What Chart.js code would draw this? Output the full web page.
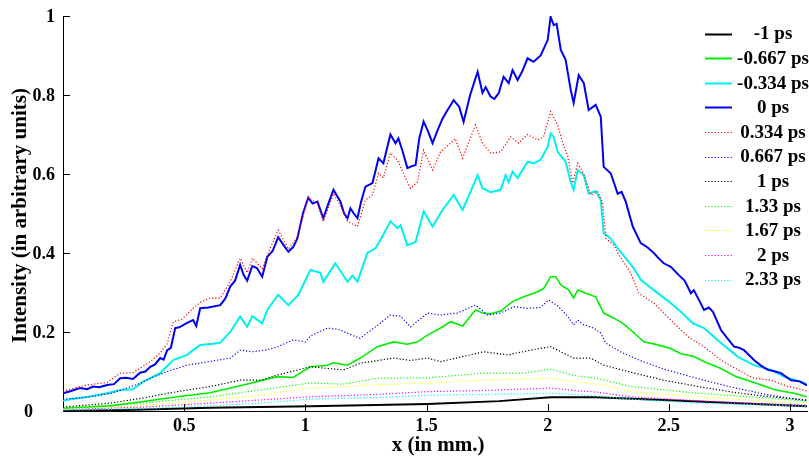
<!DOCTYPE html>
<html><head><meta charset="utf-8">
<script src="https://cdn.jsdelivr.net/npm/chart.js@4/dist/chart.umd.min.js"></script>
<style>html,body{margin:0;padding:0;background:#fff;}canvas{display:block;}</style>
</head><body>
<canvas id="c" width="809" height="459"></canvas>
<script>
// ---------- DATA ----------
const seriesLabels = ['-1 ps','-0.667 ps','-0.334 ps','0 ps','0.334 ps','0.667 ps','1 ps','1.33 ps','1.67 ps','2 ps','2.33 ps'];
const xTickValues = [0.5, 1, 1.5, 2, 2.5, 3];
const yTickValues = [0, 0.2, 0.4, 0.6, 0.8, 1];

// -1 ps
const xM1 = [0.000,0.300,0.607,1.021,1.504,1.800,2.012,2.200,2.500,2.760,3.070];
const yM1 = [0.000,0.003,0.008,0.012,0.018,0.025,0.035,0.035,0.027,0.020,0.012];

// -0.667 ps
const xM0667 = [0.000,0.100,0.194,0.331,0.471,0.607,0.744,0.884,0.950,1.021,1.091,1.116,1.174,1.227,1.297,1.364,1.421,1.463,1.504,1.558,1.599,1.649,1.702,1.731,1.764,1.806,1.855,1.901,1.959,1.983,2.012,2.033,2.054,2.087,2.107,2.124,2.157,2.198,2.231,2.273,2.310,2.343,2.397,2.450,2.508,2.550,2.603,2.656,2.713,2.776,2.857,2.941,3.017,3.070];
const yM0667 = [0.007,0.010,0.013,0.024,0.036,0.046,0.066,0.087,0.085,0.112,0.116,0.122,0.116,0.134,0.163,0.175,0.169,0.175,0.192,0.210,0.226,0.215,0.256,0.248,0.246,0.253,0.277,0.289,0.302,0.310,0.340,0.340,0.319,0.306,0.286,0.306,0.298,0.289,0.248,0.235,0.222,0.205,0.175,0.168,0.158,0.145,0.138,0.122,0.108,0.087,0.071,0.053,0.045,0.036];

// -0.334 ps
const xM0334 = [0.000,0.030,0.070,0.124,0.182,0.236,0.289,0.330,0.401,0.455,0.512,0.537,0.566,0.620,0.649,0.690,0.731,0.760,0.781,0.822,0.843,0.888,0.930,0.971,1.021,1.062,1.074,1.124,1.174,1.194,1.215,1.256,1.289,1.310,1.351,1.380,1.393,1.421,1.455,1.488,1.525,1.566,1.599,1.612,1.649,1.711,1.731,1.764,1.806,1.826,1.839,1.855,1.876,1.917,1.942,1.971,2.000,2.012,2.025,2.041,2.074,2.095,2.107,2.124,2.149,2.169,2.198,2.219,2.231,2.260,2.289,2.322,2.351,2.384,2.438,2.500,2.541,2.599,2.645,2.715,2.785,2.851,2.921,2.975,3.058,3.070];
const yM0334 = [0.026,0.030,0.033,0.038,0.045,0.053,0.055,0.074,0.096,0.129,0.142,0.154,0.167,0.170,0.173,0.200,0.239,0.213,0.240,0.222,0.256,0.294,0.268,0.294,0.357,0.350,0.327,0.374,0.327,0.343,0.327,0.400,0.412,0.433,0.480,0.463,0.470,0.420,0.428,0.505,0.467,0.509,0.536,0.547,0.509,0.597,0.564,0.554,0.560,0.597,0.580,0.606,0.590,0.631,0.627,0.636,0.669,0.703,0.694,0.656,0.631,0.580,0.560,0.610,0.597,0.550,0.557,0.534,0.450,0.437,0.412,0.387,0.365,0.332,0.306,0.277,0.256,0.222,0.210,0.172,0.137,0.116,0.104,0.087,0.071,0.066];

// 0 ps
const xP0 = [0.000,0.030,0.070,0.100,0.124,0.150,0.182,0.210,0.236,0.260,0.289,0.318,0.340,0.360,0.380,0.401,0.415,0.430,0.445,0.463,0.480,0.512,0.537,0.550,0.566,0.600,0.649,0.670,0.690,0.710,0.731,0.745,0.760,0.781,0.800,0.822,0.843,0.865,0.888,0.910,0.930,0.950,0.967,0.990,1.012,1.030,1.050,1.074,1.095,1.116,1.145,1.160,1.174,1.186,1.200,1.215,1.230,1.248,1.277,1.302,1.322,1.351,1.372,1.384,1.400,1.421,1.440,1.455,1.470,1.488,1.505,1.525,1.545,1.566,1.585,1.612,1.635,1.653,1.680,1.711,1.731,1.744,1.764,1.780,1.798,1.818,1.839,1.855,1.876,1.895,1.917,1.942,1.971,2.000,2.012,2.025,2.037,2.054,2.074,2.095,2.107,2.128,2.149,2.169,2.198,2.219,2.231,2.260,2.289,2.305,2.322,2.351,2.384,2.410,2.438,2.460,2.479,2.508,2.541,2.565,2.591,2.603,2.625,2.645,2.665,2.682,2.715,2.740,2.769,2.790,2.810,2.851,2.880,2.909,2.940,2.963,3.004,3.040,3.070];
const yP0 = [0.045,0.050,0.058,0.055,0.062,0.060,0.066,0.068,0.083,0.084,0.081,0.097,0.100,0.112,0.118,0.134,0.130,0.154,0.160,0.210,0.212,0.223,0.230,0.215,0.260,0.262,0.268,0.285,0.315,0.330,0.370,0.345,0.330,0.367,0.362,0.340,0.390,0.405,0.440,0.420,0.403,0.415,0.437,0.500,0.540,0.525,0.530,0.488,0.525,0.560,0.530,0.500,0.488,0.513,0.500,0.488,0.530,0.568,0.577,0.640,0.627,0.700,0.678,0.690,0.660,0.615,0.620,0.623,0.690,0.733,0.710,0.678,0.710,0.740,0.760,0.787,0.770,0.732,0.800,0.859,0.805,0.820,0.796,0.790,0.805,0.846,0.830,0.863,0.838,0.860,0.893,0.884,0.900,0.939,0.998,0.977,0.980,0.914,0.889,0.813,0.780,0.850,0.830,0.762,0.775,0.745,0.618,0.602,0.550,0.555,0.530,0.467,0.425,0.415,0.400,0.385,0.374,0.365,0.344,0.330,0.298,0.306,0.280,0.256,0.262,0.251,0.205,0.185,0.163,0.160,0.154,0.129,0.115,0.104,0.100,0.096,0.078,0.075,0.065];

// 0.334 ps
const xP0334 = [0.000,0.030,0.070,0.124,0.182,0.236,0.289,0.318,0.360,0.401,0.430,0.455,0.490,0.537,0.566,0.606,0.649,0.690,0.731,0.760,0.781,0.822,0.843,0.888,0.930,0.967,1.012,1.050,1.074,1.116,1.145,1.174,1.215,1.248,1.277,1.302,1.322,1.351,1.380,1.421,1.434,1.463,1.488,1.525,1.558,1.599,1.618,1.649,1.702,1.731,1.764,1.806,1.847,1.880,1.917,1.959,1.983,2.012,2.041,2.062,2.083,2.103,2.124,2.149,2.178,2.207,2.227,2.240,2.273,2.302,2.343,2.376,2.438,2.508,2.579,2.645,2.715,2.785,2.851,2.921,2.992,3.058,3.070];
const yP0334 = [0.050,0.055,0.062,0.068,0.072,0.096,0.097,0.108,0.125,0.147,0.170,0.226,0.232,0.260,0.275,0.286,0.286,0.327,0.387,0.350,0.387,0.360,0.395,0.458,0.410,0.440,0.540,0.525,0.480,0.550,0.520,0.480,0.467,0.534,0.547,0.602,0.590,0.653,0.635,0.580,0.564,0.580,0.660,0.610,0.656,0.678,0.690,0.640,0.724,0.678,0.653,0.656,0.694,0.678,0.700,0.686,0.694,0.758,0.724,0.678,0.644,0.577,0.627,0.600,0.547,0.555,0.526,0.437,0.420,0.387,0.349,0.298,0.273,0.230,0.188,0.163,0.129,0.104,0.083,0.078,0.062,0.053,0.050];

// 0.667 ps
const xP0667 = [0.000,0.100,0.200,0.236,0.318,0.360,0.430,0.512,0.600,0.690,0.731,0.781,0.843,0.888,0.950,1.000,1.021,1.091,1.140,1.200,1.225,1.300,1.351,1.393,1.434,1.504,1.558,1.628,1.702,1.752,1.806,1.860,1.917,1.970,2.004,2.041,2.083,2.107,2.124,2.149,2.190,2.219,2.240,2.300,2.380,2.480,2.620,2.760,2.900,3.000,3.070];
const yP0667 = [0.030,0.035,0.045,0.052,0.070,0.083,0.100,0.116,0.125,0.134,0.154,0.150,0.155,0.163,0.180,0.175,0.190,0.210,0.206,0.190,0.184,0.218,0.243,0.240,0.213,0.248,0.243,0.248,0.268,0.243,0.248,0.264,0.260,0.262,0.281,0.266,0.239,0.218,0.230,0.218,0.210,0.197,0.172,0.150,0.128,0.106,0.082,0.060,0.042,0.032,0.026];

// 1 ps
const xP1 = [0.000,0.194,0.331,0.471,0.607,0.731,0.814,0.884,1.021,1.157,1.227,1.364,1.434,1.504,1.558,1.736,1.835,1.930,2.012,2.107,2.178,2.231,2.343,2.479,2.620,2.760,2.900,3.070];
const yP1 = [0.010,0.020,0.033,0.049,0.062,0.078,0.078,0.091,0.112,0.104,0.121,0.134,0.128,0.134,0.125,0.150,0.142,0.154,0.163,0.134,0.134,0.116,0.098,0.078,0.062,0.048,0.037,0.028];

// 1.33 ps
const xP133 = [0.000,0.331,0.607,0.814,1.021,1.157,1.297,1.504,1.736,1.900,2.012,2.107,2.200,2.343,2.620,2.900,3.070];
const yP133 = [0.006,0.020,0.036,0.053,0.071,0.068,0.083,0.084,0.096,0.096,0.106,0.090,0.083,0.062,0.045,0.033,0.025];

// 1.67 ps
const xP167 = [0.000,0.331,0.607,0.814,1.021,1.297,1.504,1.736,2.012,2.107,2.200,2.343,2.620,2.900,3.070];
const yP167 = [0.004,0.014,0.028,0.040,0.058,0.066,0.071,0.078,0.083,0.074,0.068,0.049,0.036,0.025,0.020];

// 2 ps
const xP2 = [0.000,0.331,0.607,0.814,1.021,1.297,1.504,1.736,2.012,2.107,2.200,2.343,2.620,2.900,3.070];
const yP2 = [0.003,0.010,0.020,0.028,0.036,0.042,0.049,0.052,0.058,0.052,0.048,0.036,0.026,0.018,0.015];

// 2.33 ps
const xP233 = [0.000,0.331,0.607,0.814,1.021,1.297,1.504,1.736,2.012,2.107,2.200,2.343,2.620,2.900,3.070];
const yP233 = [0.002,0.006,0.013,0.020,0.030,0.034,0.040,0.042,0.045,0.042,0.038,0.030,0.020,0.015,0.012];

// ---------- STYLE ----------
const FONT = '"Liberation Serif", "Times New Roman", serif';
const seriesX = [xM1,xM0667,xM0334,xP0,xP0334,xP0667,xP1,xP133,xP167,xP2,xP233];
const seriesY = [yM1,yM0667,yM0334,yP0,yP0334,yP0667,yP1,yP133,yP167,yP2,yP233];
const colors = ['#000000','#00ee00','#00f0f0','#0000ee','#ff0000','#0000ff','#000000','#00ff00','#ffff00','#ff00ff','#00ffff'];
const widths = [2, 1.6, 2, 2, 1.2, 1.2, 1.2, 1.2, 1.2, 1.2, 1.2];
const dotted = [false,false,false,false,true,true,true,true,true,true,true];
const DOT = [1.2, 2];

const datasets = seriesLabels.map((lab, i) => ({
  label: lab,
  data: seriesX[i].map((x, k) => ({x: x, y: seriesY[i][k]})),
  borderColor: colors[i],
  borderWidth: widths[i],
  borderDash: dotted[i] ? DOT : [],
  pointRadius: 0,
  fill: false,
  tension: 0,
  order: 10 - i
}));

function fmt(v){ return String(parseFloat(v.toFixed(3))); }

const decor = {
  id: 'decor',
  afterDraw(chart) {
    const ctx = chart.ctx;
    const xs = chart.scales.x, ys = chart.scales.y;
    const a = chart.chartArea;
    ctx.save();
    // inward tick marks
    ctx.strokeStyle = '#000';
    ctx.lineWidth = 1;
    ctx.setLineDash([]);
    xTickValues.forEach(v => {
      const px = Math.round(xs.getPixelForValue(v)) + 0.5;
      ctx.beginPath(); ctx.moveTo(px, a.bottom); ctx.lineTo(px, a.bottom - 7); ctx.stroke();
    });
    yTickValues.forEach(v => {
      const py = Math.round(ys.getPixelForValue(v)) + 0.5;
      ctx.beginPath(); ctx.moveTo(a.left, py); ctx.lineTo(a.left + 7, py); ctx.stroke();
    });
    // y tick labels
    ctx.fillStyle = '#000';
    ctx.font = 'bold 18px ' + FONT;
    ctx.textBaseline = 'middle';
    ctx.textAlign = 'right';
    yTickValues.forEach(v => {
      const py = ys.getPixelForValue(v);
      const right = v === 0 ? 33 : 55;
      ctx.fillText(fmt(v), right, py + 1);
    });
    // axis titles
    ctx.font = 'bold 21px ' + FONT;
    ctx.textAlign = 'center';
    ctx.fillText('x (in mm.)', (a.left + a.right) / 2 + 3, 446);
    ctx.save();
    ctx.translate(21, (a.top + a.bottom) / 2 + 2);
    ctx.rotate(-Math.PI / 2);
    ctx.fillText('Intensity (in arbitrary units)', 0, 0);
    ctx.restore();
    // legend
    ctx.font = 'bold 19px ' + FONT;
    chart.data.datasets.forEach((ds, i) => {
      const y = 33.5 + i * 24.6;
      ctx.strokeStyle = ds.borderColor;
      ctx.lineWidth = dotted[i] ? 1.2 : 2;
      ctx.setLineDash(dotted[i] ? DOT : []);
      ctx.beginPath(); ctx.moveTo(705, Math.round(y) + 0.5); ctx.lineTo(732, Math.round(y) + 0.5); ctx.stroke();
      ctx.setLineDash([]);
      ctx.fillStyle = '#000';
      ctx.textAlign = 'center';
      ctx.fillText(ds.label, 773, y + 1);
    });
    ctx.restore();
  }
};

new Chart(document.getElementById('c'), {
  type: 'line',
  data: { datasets: datasets },
  plugins: [decor],
  options: {
    responsive: false,
    animation: false,
    devicePixelRatio: 1,
    parsing: true,
    layout: { padding: { top: 16, right: 2, left: 0, bottom: 0 } },
    plugins: { legend: { display: false }, tooltip: { enabled: false } },
    scales: {
      x: {
        type: 'linear', min: 0, max: 3.07,
        afterFit(s) { s.height = 48; },
        grid: { display: false, drawTicks: false },
        border: { display: true, color: '#000', width: 1 },
        ticks: {
          stepSize: 0.5, includeBounds: false, autoSkip: false, maxRotation: 0, minRotation: 0,
          padding: 5, color: '#000',
          font: { family: FONT, size: 18, weight: 'bold' },
          callback: v => (v === 0 ? '' : fmt(v))
        }
      },
      y: {
        type: 'linear', min: 0, max: 1,
        afterFit(s) { s.width = 63; },
        grid: { display: false, drawTicks: false },
        border: { display: true, color: '#000', width: 1 },
        ticks: { display: false, stepSize: 0.2 }
      }
    }
  }
});
</script>
</body></html>
